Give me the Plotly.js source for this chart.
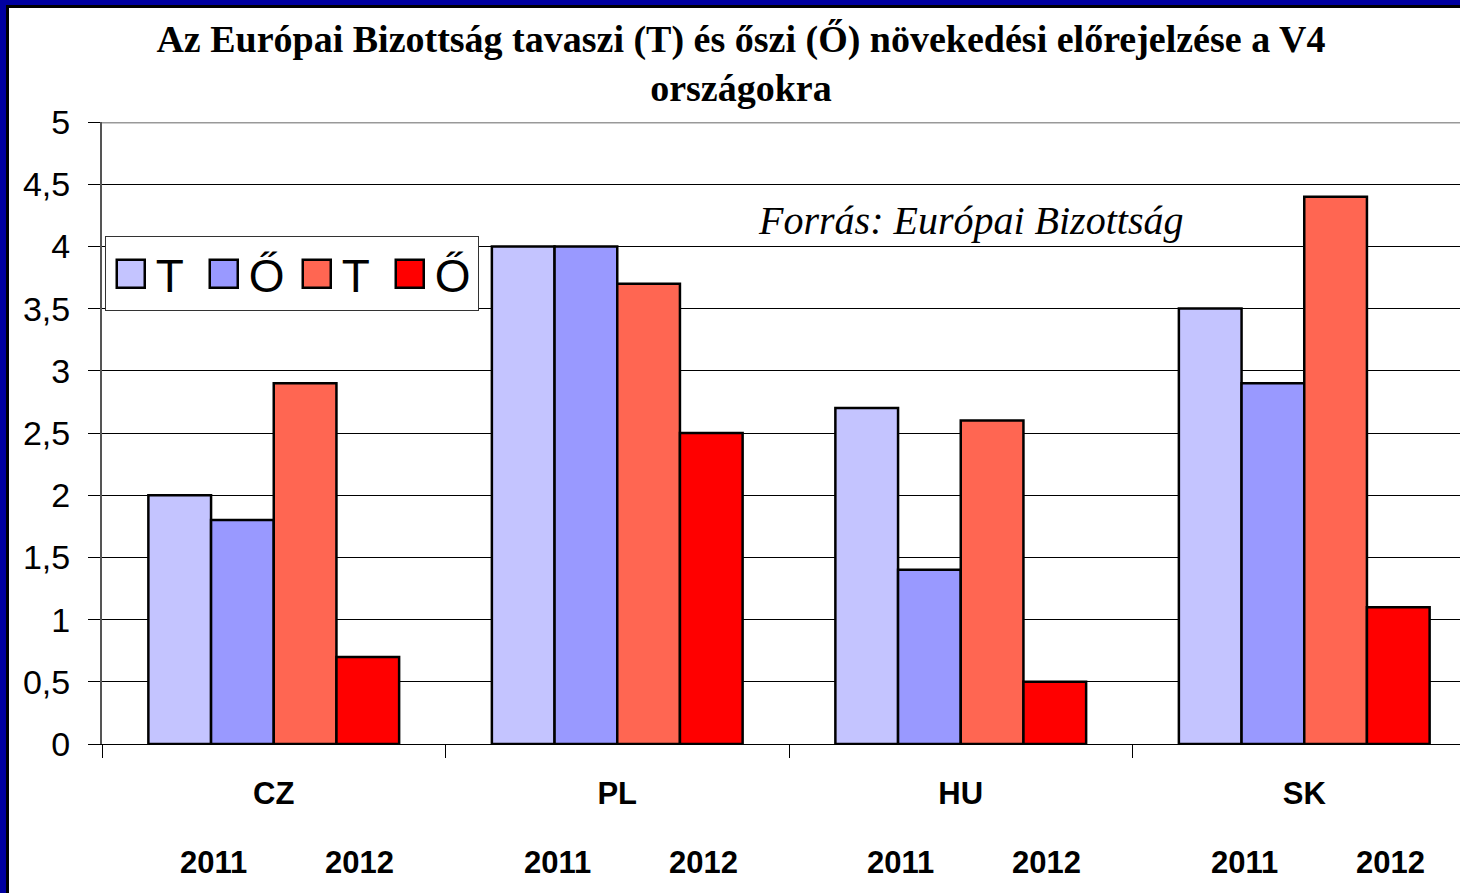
<!DOCTYPE html>
<html>
<head>
<meta charset="utf-8">
<script src="https://cdn.plot.ly/plotly-3.0.1.min.js"></script>
<style>
  html, body { margin: 0; padding: 0; width: 1460px; height: 893px; overflow: hidden; background: #fff; }
  #chart { position: absolute; left: 0; top: 0; width: 1490px; height: 893px; }
  .frame { position: absolute; z-index: 10; }
</style>
</head>
<body>
<div id="chart"></div>
<div class="frame" style="left:0;top:0;width:1460px;height:5px;background:#0000A0"></div>
<div class="frame" style="left:0;top:0;width:6px;height:893px;background:#0000A0"></div>
<div class="frame" style="left:6px;top:5px;width:1454px;height:3px;background:#000"></div>
<div class="frame" style="left:6px;top:5px;width:3px;height:888px;background:#000"></div>
<script>
// ---- data ----
const countries = ["CZ", "PL", "HU", "SK"];
const seriesNames = ["T", "Ő", "T", "Ő"];
const spring2011 = [2.0, 4.0, 2.7, 3.5];
const autumn2011 = [1.8, 4.0, 1.4, 2.9];
const spring2012 = [2.9, 3.7, 2.6, 4.4];
const autumn2012 = [0.7, 2.5, 0.5, 1.1];
const yearLabels = ["2011", "2012"];
const yTickVals = [0, 0.5, 1, 1.5, 2, 2.5, 3, 3.5, 4, 4.5, 5];
const titleText = "Az Európai Bizottság tavaszi (T) és őszi (Ő) növekedési előrejelzése a V4<br>országokra";
const sourceText = "Forrás: Európai Bizottság";

const colors = ["#C4C4FF", "#9999FF", "#FF6652", "#FF0000"];
const seriesValues = [spring2011, autumn2011, spring2012, autumn2012];

const traces = seriesValues.map((vals, i) => ({
  type: "bar",
  name: seriesNames[i],
  x: countries,
  y: vals,
  marker: { color: colors[i], line: { color: "#000", width: 2.5 } },
  hoverinfo: "skip"
}));

const yearOffsets = [-0.175, 0.25];
const annotations = [];
countries.forEach((c, ci) => {
  yearLabels.forEach((yl, yi) => {
    annotations.push({
      xref: "x", yref: "paper",
      x: ci + yearOffsets[yi], y: -0.19,
      text: yl, showarrow: false,
      xanchor: "center", yanchor: "middle",
      font: { family: "Liberation Sans, Arial, sans-serif", size: 31, color: "#000", weight: "bold" }
    });
  });
});
annotations.push({
  xref: "paper", yref: "paper", x: 0.632, y: 0.842,
  text: sourceText, showarrow: false, xanchor: "center", yanchor: "middle",
  font: { family: "Liberation Serif, Times New Roman, serif", size: 40, color: "#000", style: "italic" }
});

const layout = {
  width: 1490, height: 893,
  margin: { l: 102, r: 14, t: 122, b: 149 },
  paper_bgcolor: "#fff", plot_bgcolor: "#fff",
  separators: ", ",
  barmode: "group", bargap: 0.27, bargroupgap: 0,
  showlegend: true,
  title: {
    text: titleText,
    xref: "paper", x: 0.465, xanchor: "center",
    yref: "container", y: 0.942, yanchor: "top",
    font: { family: "Liberation Serif, Times New Roman, serif", size: 38, color: "#000", weight: "bold" }
  },
  xaxis: {
    type: "category",
    tickson: "boundaries",
    ticks: "outside", ticklen: 13, tickcolor: "#000", tickwidth: 1,
    showline: true, linecolor: "#000", linewidth: 1,
    showgrid: false,
    ticklabelstandoff: 22,
    tickfont: { family: "Liberation Sans, Arial, sans-serif", size: 31, color: "#000", weight: "bold" }
  },
  yaxis: {
    range: [0, 5],
    tickvals: yTickVals,
    ticks: "outside", ticklen: 12, tickcolor: "#000", tickwidth: 1,
    showline: true, linecolor: "#555", linewidth: 2,
    showgrid: true, gridcolor: "#000", gridwidth: 1,
    zeroline: false,
    ticklabelstandoff: 11,
    tickfont: { family: "Liberation Sans, Arial, sans-serif", size: 34, color: "#000" }
  },
  legend: {
    orientation: "h",
    x: 0.002, xanchor: "left",
    y: 0.816, yanchor: "top",
    bgcolor: "#fff", bordercolor: "#333", borderwidth: 1,
    itemwidth: 40,
    entrywidth: 38, entrywidthmode: "pixels",
    traceorder: "normal",
    font: { family: "Liberation Sans, Arial, sans-serif", size: 46, color: "#000" }
  },
  shapes: [{
    type: "line", xref: "paper", yref: "y", x0: 0, x1: 1, y0: 5, y1: 5,
    line: { color: "#999", width: 3 }
  }],
  annotations: annotations
};

Plotly.newPlot("chart", traces, layout, { staticPlot: true, displayModeBar: false }).then(() => {
  document.querySelectorAll(".legendpoints path").forEach(p => {
    p.setAttribute("d", "M14,14H-14V-14H14Z");
  });
});
</script>
</body>
</html>
